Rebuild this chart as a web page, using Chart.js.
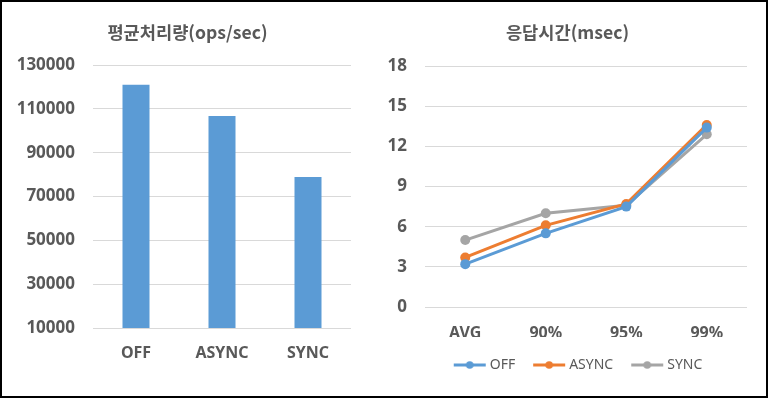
<!DOCTYPE html>
<html>
<head>
<meta charset="utf-8">
<script src="https://cdn.jsdelivr.net/npm/chart.js@4"></script>
<style>
  html, body { margin:0; padding:0; background:#fff; }
  #wrap { position:relative; width:768px; height:398px; overflow:hidden; }
  #frame { position:absolute; left:0; top:0; width:768px; height:398px; box-sizing:border-box; border:2px solid #000; pointer-events:none; }
  #c1 { position:absolute; left:0; top:0; }
  #c2 { position:absolute; left:384px; top:0; }
</style>
</head>
<body>
<div id="wrap">
  <canvas id="c1" width="374" height="398" style="width:374px;height:398px"></canvas>
  <canvas id="c2" width="368" height="398" style="width:368px;height:398px"></canvas>
  <div id="frame"></div>
</div>
<script>
// ---- data ----
const barTitle = '평균처리량(ops/sec)';
const barCategories = ['OFF', 'ASYNC', 'SYNC'];
const barValues = [121000, 106700, 78900];
const barTicks = [10000, 30000, 50000, 70000, 90000, 110000, 130000];

const lineTitle = '응답시간(msec)';
const lineCategories = ['AVG', '90%', '95%', '99%'];
const seriesNames = ['OFF', 'ASYNC', 'SYNC'];
const offValues = [3.2, 5.5, 7.5, 13.4];
const asyncValues = [3.7, 6.1, 7.7, 13.6];
const syncValues = [5.0, 7.0, 7.6, 12.9];
const lineTicks = [0, 3, 6, 9, 12, 15, 18];

// ---- styles ----
const TXT = '#595959';
const GRID = '#d9d9d9';
const colors = ['#5B9BD5', '#ED7D31', '#A5A5A5'];
const FONT = "'Noto Sans', 'Noto Sans CJK KR', sans-serif";
const KFONT = "'Noto Sans CJK KR', 'Noto Sans', sans-serif";

function legendIcon(color) {
  const c = document.createElement('canvas');
  c.width = 34; c.height = 10;
  const ctx = c.getContext('2d');
  ctx.strokeStyle = color; ctx.lineWidth = 3;
  ctx.beginPath(); ctx.moveTo(1, 5); ctx.lineTo(33, 5); ctx.stroke();
  ctx.fillStyle = color;
  ctx.beginPath(); ctx.arc(17, 5, 3.8, 0, Math.PI * 2); ctx.fill();
  return c;
}

const shiftTitle = {
  id: 'shiftTitle',
  afterLayout(chart, args, opts) {
    const dx = opts.dx || 0;
    if (chart.titleBlock) { chart.titleBlock.left += dx; chart.titleBlock.right += dx; }
  }
};
const shiftLegend = {
  id: 'shiftLegend',
  afterLayout(chart) {
    if (chart.legend) { chart.legend.left += 12; chart.legend.right += 12; }
  }
};

// Chart 1: bar
new Chart(document.getElementById('c1'), {
  type: 'bar',
  data: {
    labels: barCategories,
    datasets: [{ data: barValues, backgroundColor: colors[0], borderWidth: 0,
      categoryPercentage: 1, barPercentage: 27 / 86 }]
  },
  plugins: [shiftTitle],
  options: {
    responsive: false, animation: false,
    layout: { padding: { left: 0, right: 23, top: 0, bottom: 0 } },
    plugins: {
      shiftTitle: { dx: 12 },
      legend: { display: false },
      tooltip: { enabled: false },
      title: { display: true, text: barTitle, color: TXT,
        font: { family: KFONT, size: 17.6, weight: 'bold' },
        padding: { top: 21.5, bottom: 22.4 } }
    },
    scales: {
      x: {
        grid: { display: false, drawTicks: false },
        border: { display: false },
        ticks: { color: TXT, font: { family: FONT, size: 16, weight: 'bold' }, padding: 15.4 },
        afterFit: s => { s.height = 70; }
      },
      y: {
        min: barTicks[0], max: barTicks[barTicks.length - 1],
        afterBuildTicks: s => { s.ticks = barTicks.map(v => ({ value: v })); },
        grid: { color: GRID, lineWidth: 1, drawTicks: false },
        border: { display: false },
        ticks: { color: TXT, font: { family: FONT, size: 17, weight: 'bold' }, padding: 18,
          callback: v => String(v) },
        afterFit: s => { s.width = 93; }
      }
    }
  }
});

// Chart 2: line
const lineSeries = [offValues, asyncValues, syncValues];
new Chart(document.getElementById('c2'), {
  type: 'line',
  data: {
    labels: lineCategories,
    datasets: seriesNames.map((n, i) => ({
      label: n, data: lineSeries[i],
      borderColor: colors[i], backgroundColor: colors[i],
      borderWidth: 3, pointRadius: 5, pointBorderWidth: 0,
      pointStyle: 'circle', tension: 0
    }))
  },
  plugins: [shiftLegend],
  options: {
    responsive: false, animation: false,
    layout: { padding: { left: 0, right: 1, top: 0, bottom: 16 } },
    plugins: {
      tooltip: { enabled: false },
      title: { display: true, text: lineTitle, color: TXT,
        font: { family: KFONT, size: 17.6, weight: 'bold' },
        padding: { top: 21.5, bottom: 23.4 } },
      legend: {
        position: 'bottom',
        labels: {
          usePointStyle: true, pointStyleWidth: 26,
          color: TXT, font: { family: FONT, size: 14 }, padding: 21,
          generateLabels: chart => chart.data.datasets.map((d, i) => ({
            text: d.label, pointStyle: legendIcon(colors[i]), fillStyle: colors[i],
            strokeStyle: colors[i], lineWidth: 0, datasetIndex: i, hidden: false, fontColor: TXT
          }))
        }
      }
    },
    scales: {
      x: {
        offset: true,
        grid: { display: false, drawTicks: false },
        border: { display: false },
        ticks: { color: TXT, font: { family: FONT, size: 16, weight: 'bold' }, padding: 16.4 },
        afterFit: s => { s.height = 30; }
      },
      y: {
        min: lineTicks[0], max: lineTicks[lineTicks.length - 1],
        afterBuildTicks: s => { s.ticks = lineTicks.map(v => ({ value: v })); },
        grid: { color: GRID, lineWidth: 1, drawTicks: false },
        border: { display: false },
        ticks: { color: TXT, font: { family: FONT, size: 17, weight: 'bold' }, padding: 18 },
        afterFit: s => { s.width = 41; }
      }
    }
  }
});
</script>
</body>
</html>
